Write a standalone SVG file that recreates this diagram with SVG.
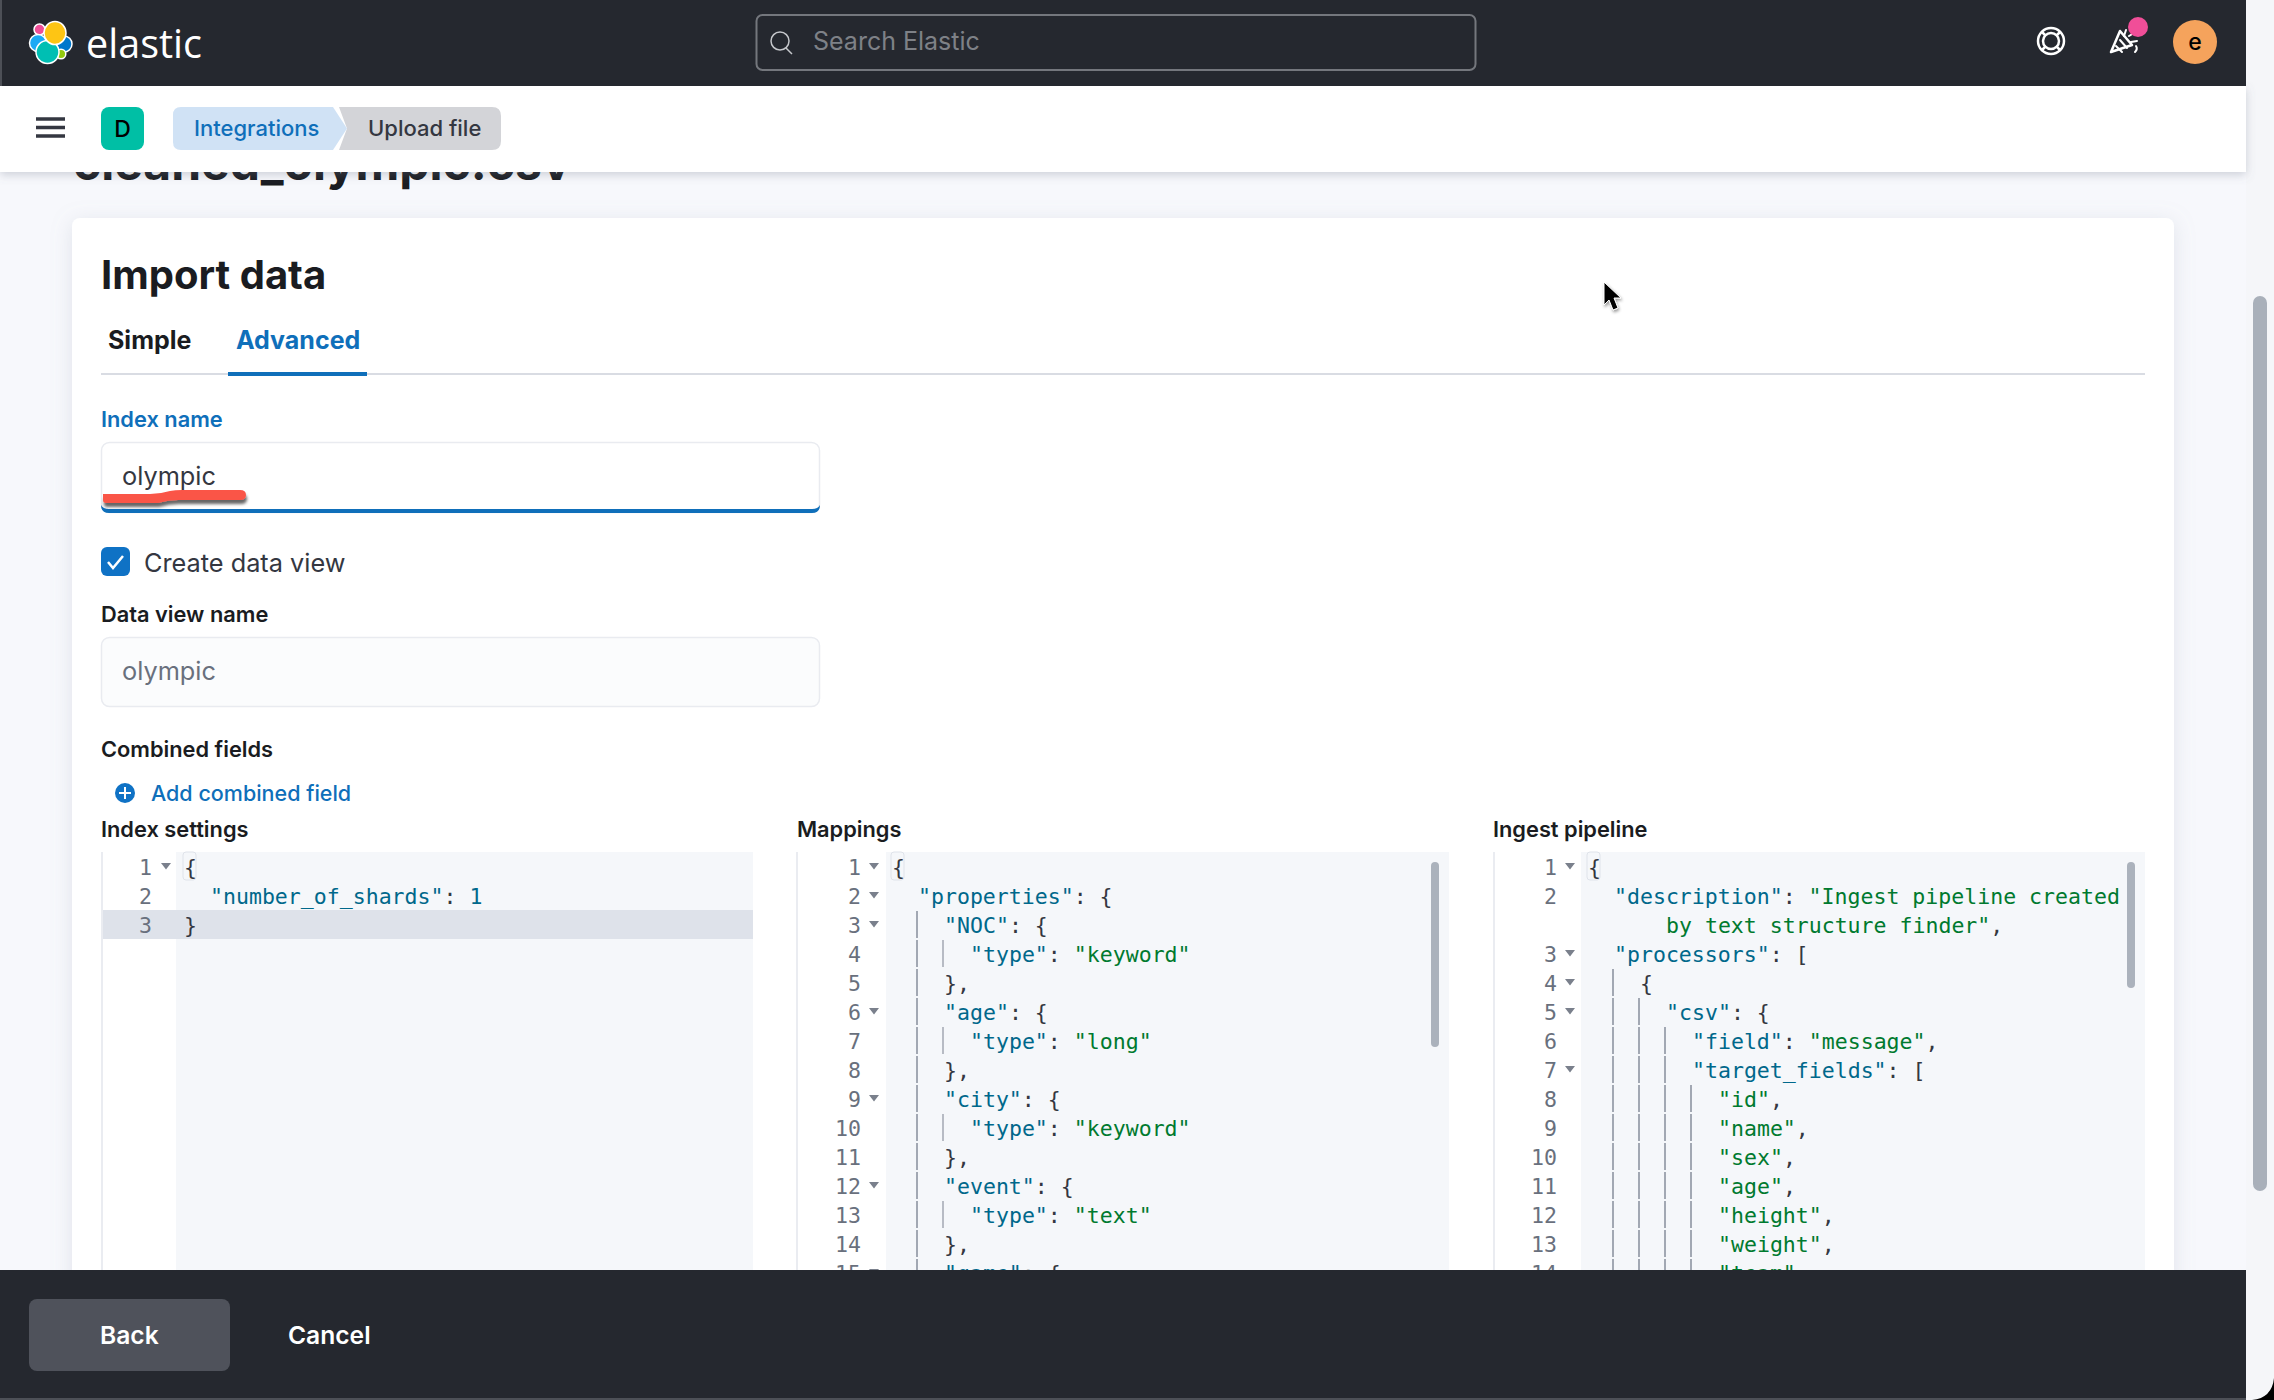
<svg xmlns="http://www.w3.org/2000/svg" width="2274" height="1400" viewBox="0 0 2274 1400">
<style>
text{font-family:Inter,"Liberation Sans",sans-serif;white-space:pre}
.l{font-size:21.8px;font-weight:600;fill:#1a1c21}
.in{font-size:25.3px;fill:#343741}
.c{font-family:"DejaVu Sans Mono","Liberation Mono",monospace;font-size:21.55px;fill:#343741}
.n{font-family:"DejaVu Sans Mono","Liberation Mono",monospace;font-size:21.55px;fill:#69707d;text-anchor:end}
.k{fill:#00688b}
.s{fill:#007a2f}
.g{stroke:#a2a8b3;stroke-width:2;stroke-dasharray:27 2;fill:none}
.bg{fill:#f5f7fa}
.fb{fill:none;stroke:#e3e6ec;stroke-width:1.5}
.ar{fill:#7a808c}
.lw{fill:none;stroke:#fff;stroke-linecap:round;stroke-linejoin:round}
</style>
<defs>
<filter id="sh" x="-5%" y="-5%" width="110%" height="110%"><feDropShadow dx="0" dy="4" stdDeviation="10" flood-color="#98a2b3" flood-opacity=".25"/></filter>
<filter id="bar" x="-2%" y="-20%" width="104%" height="150%"><feDropShadow dx="0" dy="3" stdDeviation="5" flood-color="#6a7285" flood-opacity=".3"/></filter>
<filter id="red" x="-10%" y="-50%" width="120%" height="220%"><feDropShadow dx="1" dy="4" stdDeviation="1.5" flood-color="#000" flood-opacity=".6"/></filter>
<filter id="cur" x="-50%" y="-50%" width="200%" height="200%"><feDropShadow dx="1" dy="2" stdDeviation="1.5" flood-color="#000" flood-opacity=".4"/></filter>
<clipPath id="titleclip"><rect x="0" y="172" width="2246" height="40"/></clipPath>
</defs>

<rect id="page" width="2274" height="1400" fill="#f7f8fc"/>
<rect id="track" x="2246" y="0" width="28" height="1400" fill="#f5f6f9"/>
<g clip-path="url(#titleclip)"><text id="page-title" x="73" y="180" font-size="48" font-weight="700" fill="#1a1c21">cleaned_olympic.csv</text></g>

<g id="card">
<rect x="72" y="218" width="2102" height="1200" rx="8" fill="#fff" filter="url(#sh)"/>
<text x="101" y="289" font-size="40" font-weight="700" fill="#1a1c21">Import data</text>
<text x="108" y="349" font-size="25" font-weight="700" fill="#1a1c21">Simple</text>
<text x="236" y="349" font-size="25" font-weight="700" fill="#0f6fba">Advanced</text>
<rect x="101" y="373" width="2044" height="2" fill="#d9dce3"/>
<rect x="228" y="372" width="139" height="4" fill="#0f6fba"/>
</g>

<g id="index-name">
<text class="l" x="101" y="427" style="fill:#0f6fba">Index name</text>
<rect x="101.500" y="442.500" width="718" height="70" rx="8" fill="#fff" stroke="#e9ebf0" stroke-width="1.500"/>
<path d="M101 505Q101 513 109 513H812Q820 513 820 505Q818 509 812 509H109Q103 509 101 505Z" fill="#0f6fba"/>
<text class="in" x="122" y="485">olympic</text>
<path filter="url(#red)" d="M103 494H150Q160 494 170 491Q175 490 182 490H240Q246 490 246 495Q246 500 240 500H178Q168 500 158 503H106Q103 503 103 500Z" fill="#fa5447"/>
</g>

<g id="create-data-view">
<rect x="101" y="547" width="29" height="29" rx="6" fill="#0f72c5"/>
<path d="M108 562L113 568L123 556" fill="none" stroke="#fff" stroke-width="2.500"/>
<text class="in" x="144" y="572">Create data view</text>
</g>

<g id="data-view-name">
<text class="l" x="101" y="622">Data view name</text>
<rect x="101.500" y="637.500" width="718" height="69" rx="8" fill="#fbfcfd" stroke="#e9ebf0" stroke-width="1.500"/>
<text class="in" x="122" y="680" style="fill:#69707d">olympic</text>
</g>

<g id="combined-fields">
<text class="l" x="101" y="757">Combined fields</text>
<circle cx="125" cy="793" r="10" fill="#0f72c5"/>
<path d="M125 787V799M119 793H131" stroke="#fff" stroke-width="2" fill="none"/>
<text x="151" y="801" font-size="21.5" font-weight="500" fill="#0f6fba">Add combined field</text>
</g>

<g id="index-settings">
<text class="l" x="101" y="837">Index settings</text>
<path class="fb" d="M102 852V1270"/>
<rect class="bg" x="176" y="852" width="577" height="418"/>
<rect x="103" y="910" width="650" height="29" fill="#dee2ea"/>
<rect x="183" y="852" width="13" height="28" rx="3" fill="none" stroke="#dfe3ea" stroke-width="1"/>
<text class="n" x="152" y="875">1</text><text class="n" x="152" y="904">2</text><text class="n" x="152" y="933">3</text>
<path class="ar" d="M161 863h10l-5 6.500z"/>
<text class="c" x="184" y="875">{</text>
<text class="c" x="210" y="904"><tspan class="k">"number_of_shards"</tspan>: <tspan class="k">1</tspan></text>
<text class="c" x="184" y="933">}</text>
</g>

<g id="mappings">
<text class="l" x="797" y="837">Mappings</text>
<path class="fb" d="M797 852V1270"/>
<rect class="bg" x="886" y="852" width="563" height="418"/>
<rect x="891" y="852" width="13" height="28" rx="3" fill="none" stroke="#dfe3ea" stroke-width="1"/>
<g>
<text class="n" x="861" y="875">1</text><text class="n" x="861" y="904">2</text><text class="n" x="861" y="933">3</text><text class="n" x="861" y="962">4</text><text class="n" x="861" y="991">5</text><text class="n" x="861" y="1020">6</text><text class="n" x="861" y="1049">7</text><text class="n" x="861" y="1078">8</text><text class="n" x="861" y="1107">9</text><text class="n" x="861" y="1136">10</text><text class="n" x="861" y="1165">11</text><text class="n" x="861" y="1194">12</text><text class="n" x="861" y="1223">13</text><text class="n" x="861" y="1252">14</text><text class="n" x="861" y="1281">15</text>
</g>
<path class="ar" d="M869 863h10l-5 6.500zM869 892h10l-5 6.500zM869 921h10l-5 6.500zM869 1008h10l-5 6.500zM869 1095h10l-5 6.500zM869 1182h10l-5 6.500zM869 1269h10l-5 6.500z"/>
<path class="g" d="M917 911V1270"/>
<path class="g" style="stroke-width:1.500" d="M943 940V968M943 1027V1055M943 1114V1142M943 1201V1229"/>
<text class="c" x="892" y="875">{</text>
<text class="c" x="918" y="904"><tspan class="k">"properties"</tspan>: {</text>
<text class="c" x="944" y="933"><tspan class="k">"NOC"</tspan>: {</text>
<text class="c" x="970" y="962"><tspan class="k">"type"</tspan>: <tspan class="s">"keyword"</tspan></text>
<text class="c" x="944" y="991">},</text>
<text class="c" x="944" y="1020"><tspan class="k">"age"</tspan>: {</text>
<text class="c" x="970" y="1049"><tspan class="k">"type"</tspan>: <tspan class="s">"long"</tspan></text>
<text class="c" x="944" y="1078">},</text>
<text class="c" x="944" y="1107"><tspan class="k">"city"</tspan>: {</text>
<text class="c" x="970" y="1136"><tspan class="k">"type"</tspan>: <tspan class="s">"keyword"</tspan></text>
<text class="c" x="944" y="1165">},</text>
<text class="c" x="944" y="1194"><tspan class="k">"event"</tspan>: {</text>
<text class="c" x="970" y="1223"><tspan class="k">"type"</tspan>: <tspan class="s">"text"</tspan></text>
<text class="c" x="944" y="1252">},</text>
<text class="c" x="944" y="1281"><tspan class="k">"game"</tspan>: {</text>
<rect x="1431" y="862" width="8" height="185" rx="4" fill="#abb2bc"/>
</g>

<g id="ingest-pipeline">
<text class="l" x="1493" y="837">Ingest pipeline</text>
<path class="fb" d="M1494 852V1270"/>
<rect class="bg" x="1581" y="852" width="564" height="418"/>
<rect x="1587" y="852" width="13" height="28" rx="3" fill="none" stroke="#dfe3ea" stroke-width="1"/>
<g>
<text class="n" x="1557" y="875">1</text><text class="n" x="1557" y="904">2</text><text class="n" x="1557" y="962">3</text><text class="n" x="1557" y="991">4</text><text class="n" x="1557" y="1020">5</text><text class="n" x="1557" y="1049">6</text><text class="n" x="1557" y="1078">7</text><text class="n" x="1557" y="1107">8</text><text class="n" x="1557" y="1136">9</text><text class="n" x="1557" y="1165">10</text><text class="n" x="1557" y="1194">11</text><text class="n" x="1557" y="1223">12</text><text class="n" x="1557" y="1252">13</text><text class="n" x="1557" y="1281">14</text>
</g>
<path class="ar" d="M1565 863h10l-5 6.500zM1565 950h10l-5 6.500zM1565 979h10l-5 6.500zM1565 1008h10l-5 6.500zM1565 1066h10l-5 6.500z"/>
<path class="g" d="M1613 969V1270M1639 998V1270M1665 1027V1270M1691 1085V1270"/>
<text class="c" x="1588" y="875">{</text>
<text class="c" x="1614" y="904"><tspan class="k">"description"</tspan>: <tspan class="s">"Ingest pipeline created</tspan></text>
<text class="c s" x="1666" y="933">by text structure finder"<tspan style="fill:#343741">,</tspan></text>
<text class="c" x="1614" y="962"><tspan class="k">"processors"</tspan>: [</text>
<text class="c" x="1640" y="991">{</text>
<text class="c" x="1666" y="1020"><tspan class="k">"csv"</tspan>: {</text>
<text class="c" x="1692" y="1049"><tspan class="k">"field"</tspan>: <tspan class="s">"message"</tspan>,</text>
<text class="c" x="1692" y="1078"><tspan class="k">"target_fields"</tspan>: [</text>
<text class="c" x="1718" y="1107"><tspan class="s">"id"</tspan>,</text>
<text class="c" x="1718" y="1136"><tspan class="s">"name"</tspan>,</text>
<text class="c" x="1718" y="1165"><tspan class="s">"sex"</tspan>,</text>
<text class="c" x="1718" y="1194"><tspan class="s">"age"</tspan>,</text>
<text class="c" x="1718" y="1223"><tspan class="s">"height"</tspan>,</text>
<text class="c" x="1718" y="1252"><tspan class="s">"weight"</tspan>,</text>
<text class="c" x="1718" y="1281"><tspan class="s">"team"</tspan>,</text>
<rect x="2127" y="862" width="8" height="126" rx="4" fill="#abb2bc"/>
</g>

<rect id="scrollbar" x="2253" y="296" width="14" height="895" rx="7" fill="#a9b0ba"/>

<g id="breadcrumb-bar">
<rect x="0" y="86" width="2246" height="86" fill="#fff" filter="url(#bar)"/>
<path d="M36 119H65M36 127.500H65M36 136H65" stroke="#343741" stroke-width="3.500" fill="none"/>
<rect x="101" y="107" width="43" height="43" rx="8" fill="#00bfa5"/>
<text x="122.500" y="137" font-size="23" font-weight="500" fill="#000" text-anchor="middle">D</text>
<path d="M339 107H492Q501 107 501 116V141Q501 150 492 150H339L347 128.500Z" fill="#d3d4d8"/>
<path d="M181 107H333L347 128.500L333 150H181Q173 150 173 142V115Q173 107 181 107Z" fill="#d0e2f5"/>
<text x="194" y="136" font-size="22" font-weight="500" fill="#0f6fba">Integrations</text>
<text x="368" y="136" font-size="22" font-weight="500" fill="#343741">Upload file</text>
</g>

<g id="top-bar">
<rect x="0" y="0" width="2246" height="86" fill="#25282f"/>
<rect x="0" y="0" width="2" height="86" fill="#4d5057"/>
<g id="logo" stroke="#fff" stroke-width="1.500">
<circle cx="39.500" cy="29.500" r="5.500" fill="#f04e98"/>
<circle cx="38" cy="43" r="8.500" fill="#1ba9f5"/>
<circle cx="64" cy="44" r="8" fill="#0077cc"/>
<circle cx="61" cy="54" r="4.800" fill="#93c90e"/>
<circle cx="47.500" cy="52" r="11.500" fill="#00bfb3"/>
<ellipse cx="55" cy="33" rx="11" ry="11.500" fill="#fec514"/>
</g>
<text x="86" y="58" font-size="41" fill="#fff" textLength="116" lengthAdjust="spacingAndGlyphs" style="font-family:'Open Sans',sans-serif">elastic</text>
<g id="search">
<rect x="756.500" y="15" width="719" height="55" rx="6" fill="#25282f" stroke="#74777d" stroke-width="2"/>
<circle cx="780" cy="41" r="9" fill="none" stroke="#c5c7cb" stroke-width="1.500"/>
<path d="M786 48L792 54" stroke="#c5c7cb" stroke-width="1.500"/>
<text x="813" y="50" font-size="25" fill="#7e8187">Search Elastic</text>
</g>
<g id="help-icon">
<circle class="lw" cx="2051" cy="41" r="13" stroke-width="2.500"/>
<circle class="lw" cx="2051" cy="41" r="8" stroke-width="2.500"/>
<path class="lw" stroke-width="2.500" d="M2042 32L2045 35M2060 32L2057 35M2042 50L2045 47M2060 50L2057 47"/>
</g>
<g id="news-icon">
<path class="lw" stroke-width="2.500" d="M2111 52L2120 31L2132 45Z"/>
<path class="lw" stroke-width="2" d="M2116 46L2122 52M2120 40L2127 48M2124 36L2126 30M2129 36L2134 33M2131 42L2137 41M2136 46Q2138 49 2135 52"/>
<circle cx="2138" cy="27" r="10" fill="#f04e98"/>
</g>
<g id="avatar">
<circle cx="2195" cy="42" r="22" fill="#f5a35c"/>
<text x="2195" y="50" font-size="23" font-weight="500" fill="#000" text-anchor="middle">e</text>
</g>
</g>

<path id="cursor" filter="url(#cur)" d="M1604 282V305L1609 300L1613 310L1618 308L1614 298H1621Z" fill="#000" stroke="#fff" stroke-width="1"/>

<g id="footer">
<rect x="0" y="1270" width="2246" height="128" fill="#25282f"/>
<rect x="0" y="1398" width="2246" height="2" fill="#4d5057"/>
<rect x="29" y="1299" width="201" height="72" rx="8" fill="#4f525b"/>
<text x="100" y="1344" font-size="24.600" font-weight="600" fill="#fff">Back</text>
<text x="288" y="1344" font-size="24.600" font-weight="600" fill="#fff">Cancel</text>
</g>
<path id="window-corner" d="M2274 1378Q2272 1398 2252 1400H2274Z" fill="#000"/>
</svg>
